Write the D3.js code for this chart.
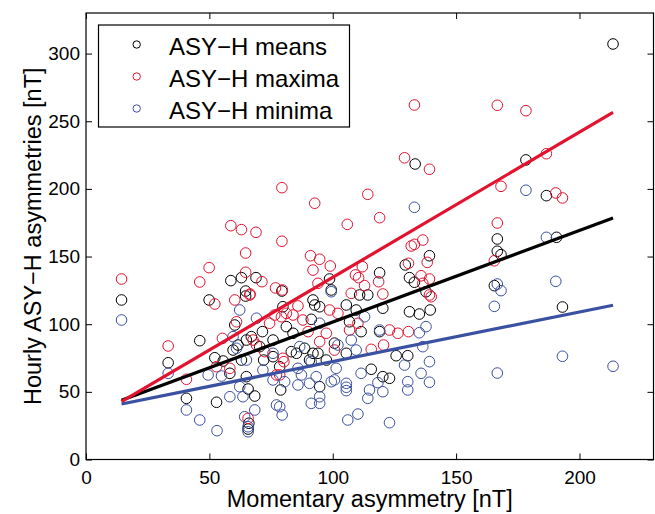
<!DOCTYPE html>
<html>
<head>
<meta charset="utf-8">
<script src="https://cdn.jsdelivr.net/npm/d3@7"></script>
<style>
  body { margin: 0; background: #fff; }
  text { font-family: "Liberation Sans", Arial, sans-serif; }
</style>
</head>
<body>
<div id="chart"></div>
<script>
const WIDTH = 655;
const HEIGHT = 514;

// [momentary asymmetry, hourly value]
const meansPts = [
  [58.7,132.2],[63,134.4],[68.9,134.4],[64.7,124.5],[79.4,124.5],[64.7,120.8],
  [14.4,117.9],[49.9,117.9],[33.3,71.5],[46.1,87.8],[40.7,45.2],[52.9,42.3],[52.2,75.2],
  [55.6,72.8],[60.3,99.4],[71.5,94.5],[58.3,63.7],[65.7,52.1],[68.4,46.9],[66,26.8],
  [65.7,22.5],[78.9,51.4],[75.8,88.3],[79.8,112.9],[72,73.5],
  [59.6,80.9],[61.6,84.6],[65,88.3],[67,90.8],[70.4,83.4],[75.8,76],[78.5,68.6],[65,61.2],[63,73.5],
  [133.4,218.4],[139.2,150.6],[129.4,143.8],[119,138],[98.7,133.4],[131.1,134.4],[133.1,131],
  [137.8,124],[99.4,125.3],[110.9,121.6],[114.2,121.6],
  [92,117.9],[92.7,114.2],[94.7,112.9],[105.5,114.2],[109.5,110.5],[120.3,111.8],[131.1,109.2],
  [135.1,107.5],[139.5,110.5],[91.3,103.6],[106.8,101.8],[111.5,94.5],[119,94.5],[83.9,93.3],
  [88.6,82.2],[92,78.5],[94,78.5],[85.3,78.5],[90.6,73.5],[97.4,73.5],[105.5,78.5],[125.7,76.7],
  [130.4,76.7],[115.6,66.7],[120.3,61.2],[123,60],[94.7,53.8],[83.2,79.7],[81.2,98.2],[100.7,86],
  [213.6,307.1],[178.3,221.4],[186.6,195],[166.7,163],[166.7,153.9],[168.2,151.4],[190.7,164.2],
  [165.5,128.5],[193.1,112.7]
];

const maximaPts = [
  [79.4,200.9],[58.7,172.8],[63,169.9],[68.9,167.9],[79.4,161.3],[64.7,152.6],[49.9,141.8],
  [14.4,133.4],[46.1,131.2],[64.7,138.4],[71.3,131.4],[76.8,126.8],[66.5,122.3],
  [33.3,83.9],[40.7,59.3],[52.2,114.9],[60.3,117.9],[66.4,121.6],[55.3,89.5],[61,101.8],
  [52.9,68.6],[58.3,67.4],[65.7,30.4],[67.7,88.3],[74.4,100.7],[76.5,106.8],[72.4,79.7],
  [77.2,62.5],[80.2,72.3],[79.2,105.5],[69.1,84.6],
  [133.1,262],[129.1,223],[139.2,214.5],[114.2,196],[92.7,189.4],[119,178.7],[105.9,173.8],
  [136.5,162.2],[131.8,157.8],[133.1,159],[91,150.6],[94.7,148],[92,140],[99,143],[112,142.5],
  [109.2,136.4],[110.5,134.4],[112.9,128.5],[118.6,131.4],[94,130.2],[130.7,145],[138.3,145.7],
  [135.8,135.8],[139.2,133.4],[136.5,130.2],[107.5,122.8],[120.3,122.3],[139.2,121.6],[79.6,125.3],
  [85.9,113.5],[81.2,108],[83.9,106.8],[87.9,103.1],[98.7,110.5],[102.1,108],[139.9,120.3],
  [90,94.5],[94.7,87.1],[97.4,93.3],[106.8,95.7],[110.2,100.7],[123,95.7],[126.4,93.3],
  [130.7,94.5],[120.6,84.6],[115.6,81.4],[100.7,80.9],[79.8,74.8],[78.5,62.5],
  [166.7,261.8],[178.3,257.8],[186.6,226],[168.2,201.9],[190.4,197],[193.1,193.3],
  [166.7,174.8],[165.5,146.9]
];

const minimaPts = [
  [14.4,103.1],[33.3,63.7],[40.7,36.6],[46.1,29.2],[53.1,21.3],[58.3,46.4],[63.6,46.4],
  [49.5,62.5],[54.9,61.7],[62.3,110.5],[59.6,90.8],[64.3,31.6],[65.7,20.5],[68.4,36.6],
  [71.7,66.1],[77.2,40.3],[69.1,104.4],[75.8,58.8],[62.3,53.8],
  [61,82.2],[75.8,78.5],[65,73.5],[80.5,57.5],[65.7,24.2],[78.5,39],
  [133.1,186.4],[99.4,124],
  [94.7,100.7],[112.9,105.5],[119,95.7],[107.5,88.3],[137.8,98.2],[135.1,93.7],[136.5,83.4],
  [102.1,84.6],[109.5,80.9],[86.6,83.4],[91.3,72.3],[85.9,67.4],[101.4,67.4],[111.5,63.7],
  [129.1,69.8],[139.2,72.3],[135.8,63.7],[139.2,57.1],[130.4,57.5],[130.4,51.4],[118.3,56.8],
  [114.9,51.4],[114.2,45.2],[120.3,50.1],[105.5,56.3],[105.5,53.4],[105.5,50.9],[99.4,57.5],
  [100.7,58.8],[85.9,55.1],[90.6,56.3],[93.3,61.2],[87.3,62.5],[94.7,46.4],[91.3,41.5],
  [94.7,41.5],[79.5,32.9],[110.2,33.6],[106.1,29.2],[123,27.2],
  [178.3,199],[186.6,164.2],[166.7,129.7],[168.2,124.8],[190.4,131.7],[165.5,113.2],
  [193.1,76.3],[166.7,63.9],[213.6,68.9]
];

// fitted lines, end points
const fitX = [14.4, 213.6];
const meansFit = [43.7, 178.5];
const maximaFit = [42.7, 256.6];
const minimaFit = [41, 114];

const xTicks = [0, 50, 100, 150, 200];
const yTicks = [0, 50, 100, 150, 200, 250, 300];

const series = [
  {name: 'ASY\u2212H means', pts: meansPts, fit: meansFit, color: '#000000'},
  {name: 'ASY\u2212H maxima', pts: maximaPts, fit: maximaFit, color: '#e3122e'},
  {name: 'ASY\u2212H minima', pts: minimaPts, fit: minimaFit, color: '#3a50a0'}
];

const plot = {left: 86, right: 653.5, top: 13, bottom: 459.5};

const x = d3.scaleLinear().domain([0, 230]).range([plot.left, plot.right]);
const y = d3.scaleLinear().domain([0, 330]).range([plot.bottom, plot.top]);

const svg = d3.select('#chart').append('svg')
  .attr('width', WIDTH)
  .attr('height', HEIGHT);

// scatter
series.forEach(s => {
  svg.append('g').selectAll('circle')
    .data(s.pts)
    .enter().append('circle')
    .attr('cx', d => x(d[0]))
    .attr('cy', d => y(d[1]))
    .attr('r', 5.3)
    .attr('fill', 'none')
    .attr('stroke', s.color)
    .attr('stroke-width', 1);
});

// fit lines
const line = d3.line().x(d => x(d[0])).y(d => y(d[1]));
series.forEach(s => {
  svg.append('path')
    .datum(fitX.map((v, i) => [v, s.fit[i]]))
    .attr('d', line)
    .attr('fill', 'none')
    .attr('stroke', s.color)
    .attr('stroke-width', 3.2);
});

// axes, ticks pointing inward
function styleAxis(g) {
  g.select('.domain').remove();
  g.selectAll('.tick line').attr('stroke', '#000');
  g.selectAll('.tick text').attr('fill', '#000').style('font-size', '19px');
}

svg.append('g')
  .attr('transform', `translate(0,${plot.bottom})`)
  .call(d3.axisBottom(x).tickValues(xTicks).tickSize(-6).tickPadding(11))
  .call(styleAxis);

svg.append('g')
  .attr('transform', `translate(0,${plot.top})`)
  .call(d3.axisTop(x).tickValues(xTicks).tickSize(-6).tickFormat(''))
  .call(styleAxis);

svg.append('g')
  .attr('transform', `translate(${plot.left},0)`)
  .call(d3.axisLeft(y).tickValues(yTicks).tickSize(-6).tickPadding(6))
  .call(styleAxis);

svg.append('g')
  .attr('transform', `translate(${plot.right},0)`)
  .call(d3.axisRight(y).tickValues(yTicks).tickSize(-6).tickFormat(''))
  .call(styleAxis);

svg.append('rect')
  .attr('x', plot.left)
  .attr('y', plot.top)
  .attr('width', plot.right - plot.left)
  .attr('height', plot.bottom - plot.top)
  .attr('fill', 'none')
  .attr('stroke', '#000')
  .attr('stroke-width', 1.2);

// axis titles
svg.append('text')
  .attr('x', (plot.left + plot.right) / 2)
  .attr('y', 507)
  .attr('text-anchor', 'middle')
  .style('font-size', '23.5px')
  .text('Momentary asymmetry [nT]');

svg.append('text')
  .attr('transform', `translate(41,${(plot.top + plot.bottom) / 2}) rotate(-90)`)
  .attr('text-anchor', 'middle')
  .style('font-size', '23.5px')
  .text('Hourly ASY\u2212H asymmetries [nT]');

// legend
const legend = svg.append('g');
legend.append('rect')
  .attr('x', 98.5)
  .attr('y', 25)
  .attr('width', 251)
  .attr('height', 102)
  .attr('fill', '#fff')
  .attr('stroke', '#000')
  .attr('stroke-width', 1.2);

series.forEach((s, i) => {
  const cy = 44.5 + i * 32;
  legend.append('circle')
    .attr('cx', 136.7)
    .attr('cy', cy)
    .attr('r', 3.7)
    .attr('fill', 'none')
    .attr('stroke', s.color)
    .attr('stroke-width', 1);
  legend.append('text')
    .attr('x', 169)
    .attr('y', cy + 10.5)
    .style('font-size', '24px')
    .text(s.name);
});
</script>
</body>
</html>
